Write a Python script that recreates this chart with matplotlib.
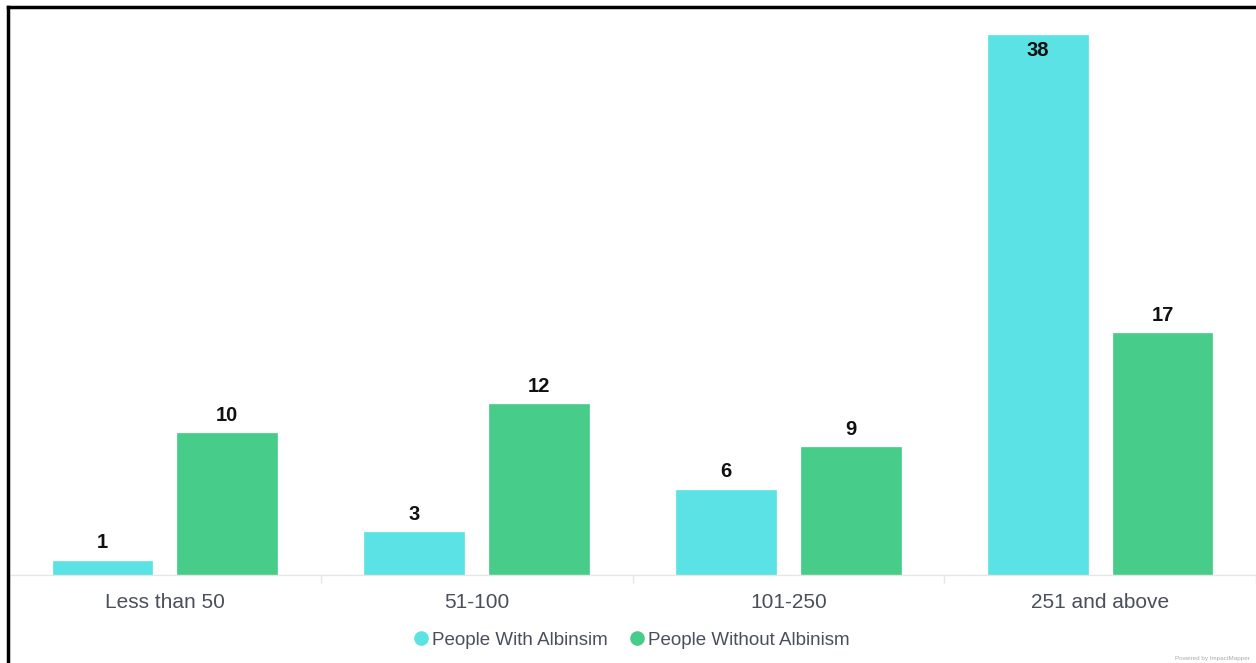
import matplotlib.pyplot as plt
from matplotlib.lines import Line2D
import numpy as np

categories = ['Less than 50', '51-100', '101-250', '251 and above']
with_albinism = [1, 3, 6, 38]
without_albinism = [10, 12, 9, 17]
series_names = ['People With Albinsim', 'People Without Albinism']
colors = ['#5ae2e5', '#47cc89']

W, H = 1256, 663
plt.rcParams['font.family'] = ['Liberation Sans', 'DejaVu Sans']

fig = plt.figure(figsize=(W / 100, H / 100), dpi=100)
ax = fig.add_axes([9 / W, (H - 575) / H, (1256 - 9) / W, (575 - 35) / H])

x = np.arange(len(categories))
width = 0.32
offset = 0.2
ymax = max(with_albinism + without_albinism)

for vals, off, col, name in [(with_albinism, -offset, colors[0], series_names[0]),
                             (without_albinism, offset, colors[1], series_names[1])]:
    bars = ax.bar(x + off, vals, width, color=col, edgecolor=col, linewidth=0.5,
                  label=name, zorder=2)
    for b, v in zip(bars, vals):
        cx = b.get_x() + b.get_width() / 2
        if v >= ymax:
            # tallest bar: label sits inside the top of the bar
            ax.annotate(str(v), (cx, v), xytext=(0, -4), textcoords='offset points',
                        ha='center', va='top', fontsize=14.5, fontweight='bold', color='#111111')
        else:
            ax.annotate(str(v), (cx, v), xytext=(0, 6), textcoords='offset points',
                        ha='center', va='bottom', fontsize=14.5, fontweight='bold', color='#111111')

ax.set_xlim(-0.5, len(categories) - 0.5)
ax.set_ylim(0, ymax)
for s in ['top', 'right', 'left']:
    ax.spines[s].set_visible(False)
ax.spines['bottom'].set_color('#e6e6e6')
ax.spines['bottom'].set_linewidth(1)
ax.set_yticks([])
ax.set_xticks(x)
ax.set_xticklabels(categories, fontsize=15, color='#4a4f5c')
ax.tick_params(axis='x', length=0, pad=13)
ax.set_xticks(np.arange(len(categories) + 1) - 0.5, minor=True)
ax.tick_params(axis='x', which='minor', length=6, color='#e6e6e6', width=1)

handles = [Line2D([], [], marker='o', linestyle='', markersize=9.5, color=c) for c in colors]
ax.legend(handles, series_names, loc='upper center', bbox_to_anchor=(0.5, -0.074), ncol=2,
          frameon=False, fontsize=13.5, handlelength=0.6, handletextpad=0.25,
          columnspacing=1.3, labelcolor='#4a4f5c')

fig.text(1250 / W, 2 / H, 'Powered by ImpactMapper', fontsize=4.5, color='#aaaaaa',
         ha='right', va='bottom')

# black frame at top and left
fig.add_artist(Line2D([8 / W, 1], [1 - 7 / H, 1 - 7 / H], color='black', linewidth=2.5,
                      transform=fig.transFigure))
fig.add_artist(Line2D([8 / W, 8 / W], [0, 1 - 7 / H], color='black', linewidth=2.5,
                      transform=fig.transFigure))

fig.savefig('out.png', dpi=100)
